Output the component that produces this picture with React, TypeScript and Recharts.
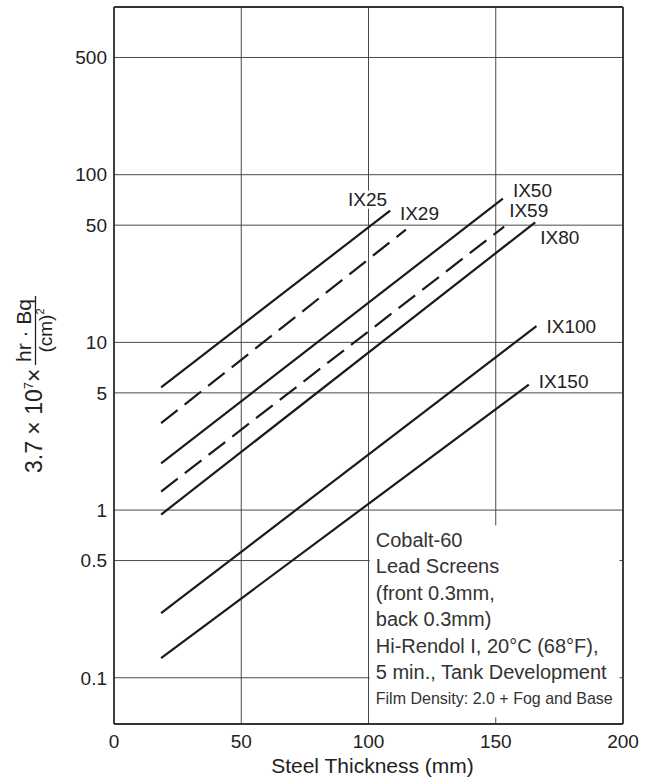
import React from 'react';
import {
  LineChart,
  Line,
  XAxis,
  YAxis,
  CartesianGrid,
  ReferenceArea,
  ReferenceLine,
  LabelList,
} from 'recharts';

// Exposure chart, Co-60, steel thickness vs exposure (log scale)
const xTicks = [0, 50, 100, 150, 200];
const yTicks = [0.1, 0.5, 1, 5, 10, 50, 100, 500];

const filmTypes = ['IX25', 'IX29', 'IX50', 'IX59', 'IX80', 'IX100', 'IX150'];
const dashedFilms = ['IX29', 'IX59'];
const startThickness = [18.5, 18.5, 18.5, 18.5, 18.5, 18.5, 18.5];
const endThickness = [108.5, 114.7, 152.8, 153.3, 165.5, 166, 163];
const startExposure = [5.4, 3.3, 1.9, 1.29, 0.94, 0.243, 0.131];
const endExposure = [61, 47, 72, 49, 52, 12.5, 5.6];

const noteLines = [
  'Cobalt-60',
  'Lead Screens',
  '(front 0.3mm,',
  'back 0.3mm)',
  'Hi-Rendol I, 20°C (68°F),',
  '5 min., Tank Development',
];
const noteSmall = 'Film Density: 2.0 + Fog and Base';

// label placement relative to the end of each line
const labelOffsets: Record<string, { dx: number; dy: number; anchor: 'start' | 'end' }> = {
  IX25: { dx: -3, dy: -5, anchor: 'end' },
  IX29: { dx: -6, dy: -10, anchor: 'start' },
  IX50: { dx: 10, dy: -2, anchor: 'start' },
  IX59: { dx: 5, dy: -10, anchor: 'start' },
  IX80: { dx: 5, dy: 22, anchor: 'start' },
  IX100: { dx: 10, dy: 7, anchor: 'start' },
  IX150: { dx: 10, dy: 3, anchor: 'start' },
};

const FONT = '"Liberation Sans", Arial, Helvetica, sans-serif';
const INK = '#1a1a1a';
const GRID = '#4a4a4a';

const series = filmTypes.map((name, i) => ({
  name,
  dashed: dashedFilms.includes(name),
  data: [
    { x: startThickness[i], y: startExposure[i] },
    { x: endThickness[i], y: endExposure[i] },
  ],
}));

const EndLabel = (name: string) => (props: any) => {
  const { x, y, index } = props;
  if (index !== 1 || x == null || y == null) return null;
  const o = labelOffsets[name];
  const w = name.length * 10.3;
  const tx = x + o.dx;
  const ty = y + o.dy;
  const rx = o.anchor === 'end' ? tx - w - 1 : tx - 1;
  return (
    <g>
      <rect x={rx} y={ty - 15} width={w + 2} height={18} fill="#fff" />
      <text x={tx} y={ty} textAnchor={o.anchor} fontSize={19} fill="#222" fontFamily={FONT}>
        {name}
      </text>
    </g>
  );
};

// rotated fraction label: 3.7 × 10^7 × hr·Bq / (cm)^2
const YLabel = (props: any) => {
  const vb = props.viewBox || { x: 14, y: 7 };
  const cx = vb.x + 21.5;
  const cy = vb.y + 378;
  return (
    <g transform={`translate(${cx},${cy}) rotate(-90)`} fontFamily={FONT} fill="#222">
      <text x={-88} y={6.5} fontSize={23}>
        3.7 × 10
        <tspan dy={-9} fontSize={13}>
          7
        </tspan>
        <tspan dy={9}>×</tspan>
      </text>
      <line x1={20} x2={89} y1={0} y2={0} stroke="#222" strokeWidth={1.3} />
      <text x={54.5} y={-5} textAnchor="middle" fontSize={21}>
        hr · Bq
      </text>
      <text x={54.5} y={16} textAnchor="middle" fontSize={19}>
        (cm)
        <tspan dy={-8} fontSize={11}>
          2
        </tspan>
      </text>
    </g>
  );
};

const XLabel = (props: any) => {
  const vb = props.viewBox || { x: 114, y: 724, width: 509 };
  return (
    <text
      x={vb.x + vb.width / 2 + 4}
      y={vb.y + 49}
      textAnchor="middle"
      fontSize={21}
      fill="#222"
      fontFamily={FONT}
    >
      Steel Thickness (mm)
    </text>
  );
};

const NoteBox = (props: any) => {
  const { x, y, width, height } = props;
  if (x == null) return null;
  return (
    <g fontFamily={FONT}>
      <rect x={x} y={y} width={width} height={height} fill="#fff" />
      {noteLines.map((line, i) => (
        <text key={line} x={x + 6} y={y + 21.5 + i * 26.4} fontSize={20} fill="#333">
          {line}
        </text>
      ))}
      <text
        x={x + 6}
        y={y + 21.5 + 6 * 26.4 - 1}
        fontSize={17}
        fill="#333"
        textLength={237}
        lengthAdjust="spacingAndGlyphs"
      >
        {noteSmall}
      </text>
    </g>
  );
};

export default function App() {
  return (
    <div
      style={{
        position: 'absolute',
        left: 0,
        top: 0,
        width: 656,
        height: 780,
        background: '#fff',
        fontFamily: FONT,
      }}
    >
      <LineChart width={656} height={780} margin={{ top: 7, right: 33, left: 14, bottom: 0 }}>
        <CartesianGrid stroke={GRID} strokeWidth={1} />
        <XAxis
          dataKey="x"
          type="number"
          domain={[0, 200]}
          ticks={xTicks}
          height={56}
          tickSize={0}
          tickMargin={11}
          axisLine={{ stroke: '#333', strokeWidth: 1.8 }}
          tick={{ fontSize: 19, fill: '#222', fontFamily: FONT }}
          label={XLabel}
        />
        <YAxis
          type="number"
          scale="log"
          domain={[0.053, 1000]}
          allowDataOverflow
          ticks={yTicks}
          width={100}
          tickSize={0}
          tickMargin={7}
          axisLine={{ stroke: '#333', strokeWidth: 1.8 }}
          tick={{ fontSize: 19, fill: '#222', fontFamily: FONT }}
          label={YLabel}
        />
        <ReferenceArea
          x1={100.5}
          x2={198.6}
          y1={0.058}
          y2={0.81}
          fill="#fff"
          fillOpacity={1}
          stroke="none"
          shape={NoteBox}
        />
        <ReferenceLine y={1000} stroke="#333" strokeWidth={1.8} />
        <ReferenceLine x={200} stroke="#333" strokeWidth={1.8} />
        {series.map((s) => (
          <Line
            key={s.name}
            data={s.data}
            dataKey="y"
            name={s.name}
            stroke={INK}
            strokeWidth={2.2}
            strokeDasharray={s.dashed ? '21 9' : undefined}
            dot={false}
            activeDot={false}
            isAnimationActive={false}
          >
            <LabelList dataKey="y" content={EndLabel(s.name)} />
          </Line>
        ))}
      </LineChart>
    </div>
  );
}
